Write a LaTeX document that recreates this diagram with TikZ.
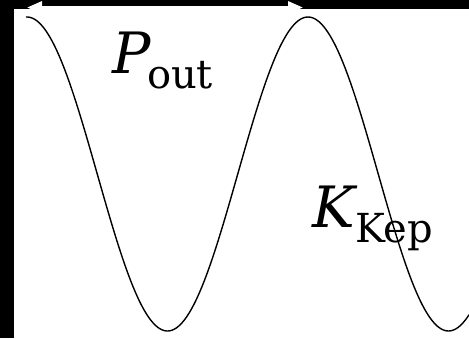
\documentclass[tikz,border=0pt]{standalone}
\usepackage{fontspec}
\setmainfont{DejaVu Serif}
\usetikzlibrary{arrows.meta}
\begin{document}
\begin{tikzpicture}[x=1pt,y=-1pt,
  lbl/.style={anchor=base west,inner sep=0pt,outer sep=0pt},
  mainlbl/.style={lbl,font=\fontsize{57}{60}\selectfont\itshape},
  sublbl/.style={lbl,font=\fontsize{40}{44}\selectfont},
  wave/.style={line width=1.4pt,line join=round},
  period/.style={draw=white,line width=3pt,{Triangle[length=15pt,width=12pt]}-{Triangle[length=15pt,width=12pt]}}]
\useasboundingbox (0,0) rectangle (469,338);
\fill[black] (0,0) rectangle (469,338);
\fill[white] (14,9) rectangle (469,338);
\draw[wave] plot[domain=26:469,samples=240,smooth] (\x,{174-157*cos(1.281139*(\x-27))});
\coordinate (pL) at (27,7.5);
\coordinate (pR) at (303,7.5);
\draw[period] (pL) -- (pR);
\node[mainlbl] (P) at (112,73) {P};
\node[sublbl] (Psub) at (147,88) {out};
\node[mainlbl] (K) at (312,227) {K};
\node[sublbl] (Ksub) at (355,242) {Kep};
\end{tikzpicture}
\end{document}
